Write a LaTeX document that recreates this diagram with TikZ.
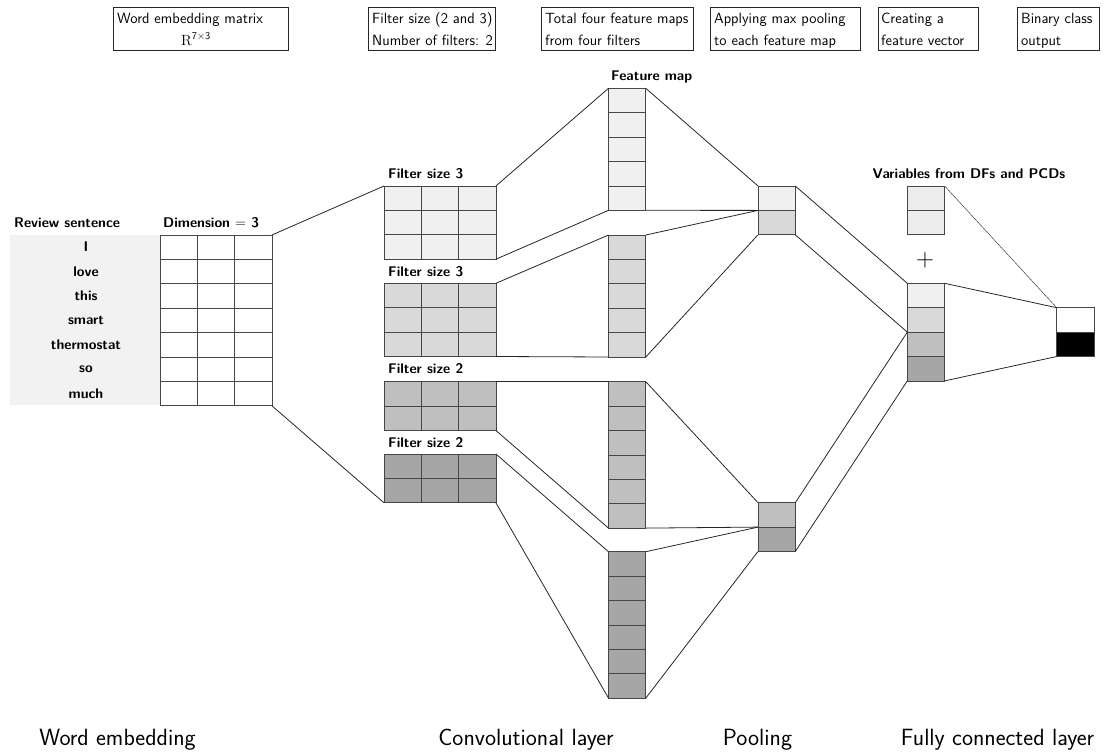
\documentclass[tikz,border=0pt]{standalone}
\begin{document}
\newcommand\cellgrid[6]{%
  \foreach \r in {1,...,#5}{\foreach \c in {1,...,#4}{%
    \node[cell, fill=#6] (#1-\r-\c) at ({#2+(\c-1)*37.3},{#3+(\r-1)*24.4}) {};}}}
\newcommand\twolines[2]{\begin{tabular}[t]{@{}l@{}}#1\\#2\end{tabular}}
\begin{tikzpicture}[x=1pt,y=-1pt,
  cell/.style={draw=black!72, line width=0.7pt, inner sep=0pt, outer sep=0pt,
    minimum width=37.3pt, minimum height=24.4pt, anchor=north west},
  conn/.style={draw=black!85, line width=0.8pt},
  thinconn/.style={draw=black!80, line width=0.45pt},
  topbox/.style={draw=black!85, line width=0.8pt, anchor=north west, inner sep=0pt,
    minimum height=43.5pt},
  toptext/.style={anchor=base west, inner sep=0pt,
    font=\sffamily\fontsize{14.8}{21}\selectfont},
  lab/.style={font=\sffamily\bfseries\fontsize{14}{16}\selectfont, inner sep=0pt},
  big/.style={font=\sffamily\fontsize{23.5}{27}\selectfont, inner sep=0pt, anchor=base}]
\useasboundingbox (0,0) rectangle (1111,752);

% top boxes
\node[topbox, minimum width=175pt] (b1) at (113,7) {};
\node[topbox, minimum width=127pt] (b2) at (368,7) {};
\node[topbox, minimum width=152pt] (b3) at (541,7) {};
\node[topbox, minimum width=150pt] (b4) at (710,7) {};
\node[topbox, minimum width=100pt] (b5) at (878,7) {};
\node[topbox, minimum width=82pt] (b6) at (1017,7) {};
\node[toptext] (t1) at (117,24) {\twolines{Word embedding matrix}{\hspace*{64pt}{\rmfamily R}\textsuperscript{7×3}}};
\node[toptext] (t2) at (372,24) {\twolines{Filter size (2 and 3)}{Number of filters: 2}};
\node[toptext] (t3) at (545,24) {\twolines{Total four feature maps}{from four filters}};
\node[toptext] (t4) at (714,24) {\twolines{Applying max pooling}{to each feature map}};
\node[toptext] (t5) at (881,24) {\twolines{Creating a}{feature vector}};
\node[toptext] (t6) at (1021,24) {\twolines{Binary class}{output}};

% review sentence
\node[fill=black!5, minimum width=150pt, minimum height=170pt, inner sep=0pt, anchor=north west] (bg) at (10,235) {};
\node[lab, anchor=west] (rs) at (14,223) {Review sentence};
\node[lab, anchor=west] (dim) at (163,223) {Dimension $=$ 3};
\foreach \w [count=\i] in {I,love,this,smart,thermostat,so,much}
  \node[lab] (w\i) at (86,{247+(\i-1)*24.4}) {\w};

% grids
\cellgrid{wm}{160}{235}{3}{7}{white}
\cellgrid{f1}{384}{186}{3}{3}{black!6}
\cellgrid{f2}{384}{283.3}{3}{3}{black!15}
\cellgrid{f3}{384}{381.7}{3}{2}{black!25}
\cellgrid{f4}{384}{454}{3}{2}{black!35}
\cellgrid{fm1}{608.5}{88.3}{1}{5}{black!6}
\cellgrid{fm2}{608.5}{235}{1}{5}{black!15}
\cellgrid{fm3}{608.5}{381.7}{1}{6}{black!25}
\cellgrid{fm4}{608.5}{551.7}{1}{6}{black!35}
\cellgrid{pb1}{758}{186}{1}{1}{black!6}
\cellgrid{pb1b}{758}{210.4}{1}{1}{black!15}
\cellgrid{pb2}{758}{502.7}{1}{1}{black!25}
\cellgrid{pb2b}{758}{527.1}{1}{1}{black!35}
\cellgrid{fva}{907.3}{283.3}{1}{1}{black!6}
\cellgrid{fvb}{907.3}{307.7}{1}{1}{black!15}
\cellgrid{fvc}{907.3}{332.1}{1}{1}{black!25}
\cellgrid{fvd}{907.3}{356.5}{1}{1}{black!35}
\cellgrid{var}{907.3}{186}{1}{2}{black!7}
\cellgrid{outa}{1056.7}{307.7}{1}{1}{white}
\cellgrid{outb}{1056.7}{332.1}{1}{1}{black}

% connectors
\draw[conn] (wm-1-3.north east) -- (f1-1-1.north west);
\draw[conn] (wm-7-3.south east) -- (f4-2-1.south west);
\draw[conn] (f1-1-3.north east) -- (fm1-1-1.north west);
\draw[conn] (f1-3-3.south east) -- (fm1-5-1.south west);
\draw[conn] (f2-1-3.north east) -- (fm2-1-1.north west);
\draw[conn] (f2-3-3.south east) -- (fm2-5-1.south west);
\draw[conn] (f3-1-3.north east) -- (fm3-1-1.north west);
\draw[conn] (f3-2-3.south east) -- (fm3-6-1.south west);
\draw[conn] (f4-1-3.north east) -- (fm4-1-1.north west);
\draw[conn] (f4-2-3.south east) -- (fm4-6-1.south west);
\draw[conn] (fm1-1-1.north east) -- (pb1-1-1.north west);
\draw[conn] (fm1-5-1.south east) -- (pb1-1-1.south west);
\draw[conn] (fm2-1-1.north east) -- (pb1-1-1.south west);
\draw[conn] (fm2-5-1.south east) -- (pb1b-1-1.south west);
\draw[conn] (fm3-1-1.north east) -- (pb2-1-1.north west);
\draw[conn] (fm3-6-1.south east) -- (pb2-1-1.south west);
\draw[conn] (fm4-1-1.north east) -- (pb2-1-1.south west);
\draw[conn] (fm4-6-1.south east) -- (pb2b-1-1.south west);
\draw[conn] (pb1-1-1.north east) -- (fva-1-1.north west);
\draw[conn] (pb1b-1-1.south east) -- (fvb-1-1.south west);
\draw[conn] (pb2-1-1.north east) -- (fvb-1-1.south west);
\draw[conn] (pb2b-1-1.south east) -- (fvd-1-1.south west);
\draw[conn] (fva-1-1.north east) -- (outa-1-1.north west);
\draw[conn] (fvd-1-1.south east) -- (outb-1-1.south west);
\draw[thinconn] (var-1-1.north east) -- (outa-1-1.north west);

% labels
\node[lab, anchor=west] (l1) at (388,174) {Filter size 3};
\node[lab, anchor=west] (l2) at (388,271.7) {Filter size 3};
\node[lab, anchor=west] (l3) at (388,368.3) {Filter size 2};
\node[lab, anchor=west] (l4) at (388,442.7) {Filter size 2};
\node[lab, anchor=west] (l5) at (611,77.3) {Feature map};
\node[lab] (l6) at (969,174) {Variables from DFs and PCDs};
\node[font=\fontsize{32}{32}\selectfont, inner sep=0pt] (plus) at (925,260) {$+$};

\node[big] (c1) at (117.5,745) {Word embedding};
\node[big] (c2) at (526,745) {Convolutional layer};
\node[big] (c3) at (757.5,745) {Pooling};
\node[big] (c4) at (997.5,745) {Fully connected layer};
\end{tikzpicture}
\end{document}
